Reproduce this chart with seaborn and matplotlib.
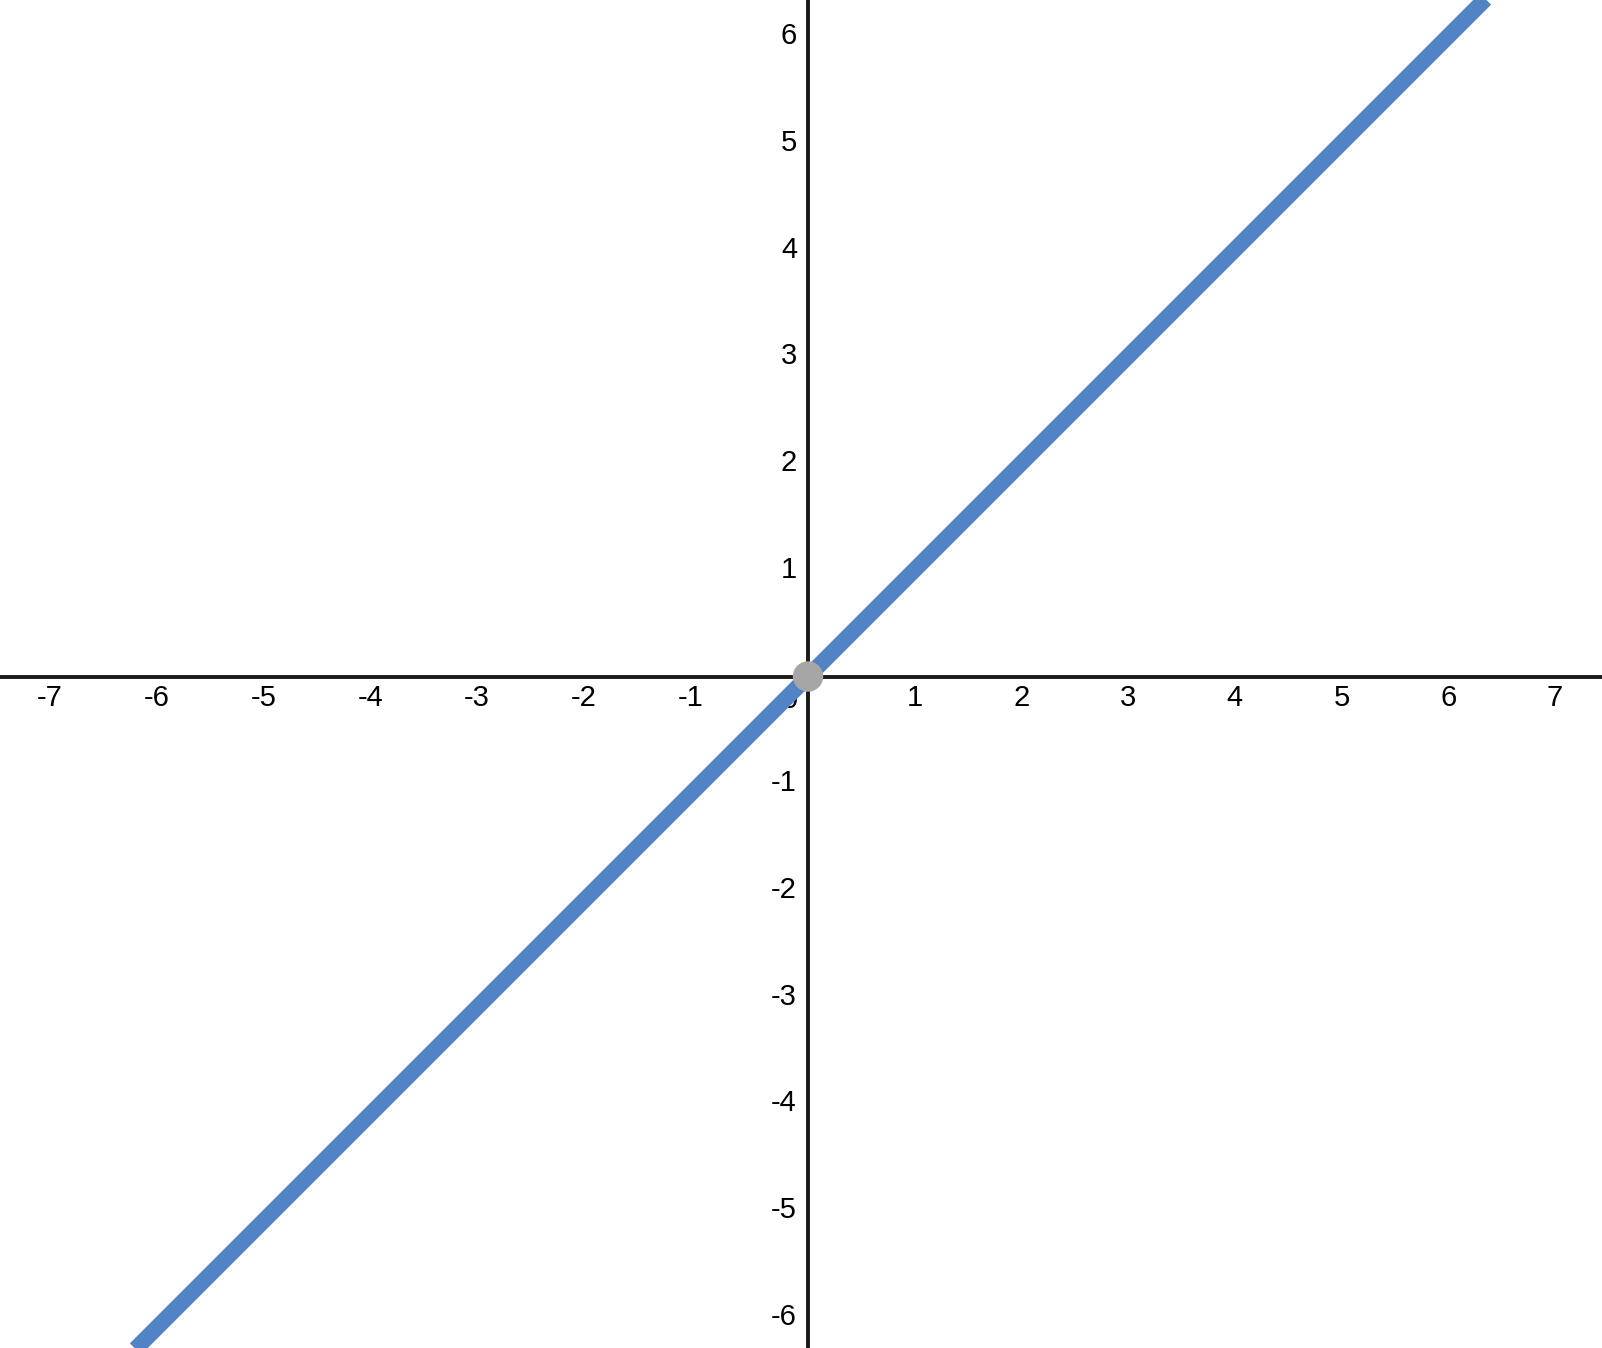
import matplotlib
matplotlib.use("Agg")
import matplotlib.pyplot as plt
import matplotlib.transforms as mtransforms
import seaborn as sns
import pandas as pd

# y = x through the origin
line_x = [-8, 8]
line_y = [-8, 8]
point_x = [0]
point_y = [0]
x_ticks = [-7, -6, -5, -4, -3, -2, -1, 1, 2, 3, 4, 5, 6, 7]
y_ticks = [-6, -5, -4, -3, -2, -1, 1, 2, 3, 4, 5, 6]

sns.set_style("white")
plt.rcParams['font.family'] = ['Liberation Sans', 'DejaVu Sans']

fig = plt.figure(figsize=(16.02, 13.48), dpi=100)
ax = fig.add_axes([0, 0, 1, 1])
ax.set_xlim(-808 / 106.7, (1602 - 808) / 106.7)
ax.set_ylim(-(1348 - 676.5) / 106.7, 676.5 / 106.7)
ax.axis("off")

ax.axhline(0, color="#1a1a1a", lw=2.8, zorder=1)
ax.axvline(0, color="#1a1a1a", lw=2.8, zorder=1)

fs = 21
for v in x_ticks:
    dx = -11 if v < 0 else 0
    tr = mtransforms.offset_copy(ax.transData, fig=fig, x=dx, y=-21.5, units="dots")
    ax.text(v, 0, str(v), transform=tr, ha="center", va="center", fontsize=fs,
            color="black", zorder=2)
tr0 = mtransforms.offset_copy(ax.transData, fig=fig, x=-18, y=-24, units="dots")
ax.text(0, 0, "0", transform=tr0, ha="center", va="center", fontsize=fs,
        color="black", zorder=2)
for v in y_ticks:
    tr = mtransforms.offset_copy(ax.transData, fig=fig, x=-11, y=0, units="dots")
    ax.text(0, v, str(v), transform=tr, ha="right", va="center", fontsize=fs,
            color="black", zorder=2)

df_line = pd.DataFrame({"x": line_x, "y": line_y})
sns.lineplot(data=df_line, x="x", y="y", ax=ax, color="#5283c4", lw=11.5,
             solid_capstyle="butt", zorder=3)
df_pt = pd.DataFrame({"x": point_x, "y": point_y})
sns.scatterplot(data=df_pt, x="x", y="y", ax=ax, color="#a6a6a6", s=480,
                edgecolor="none", zorder=4)

fig.savefig("out.png", dpi=100)
